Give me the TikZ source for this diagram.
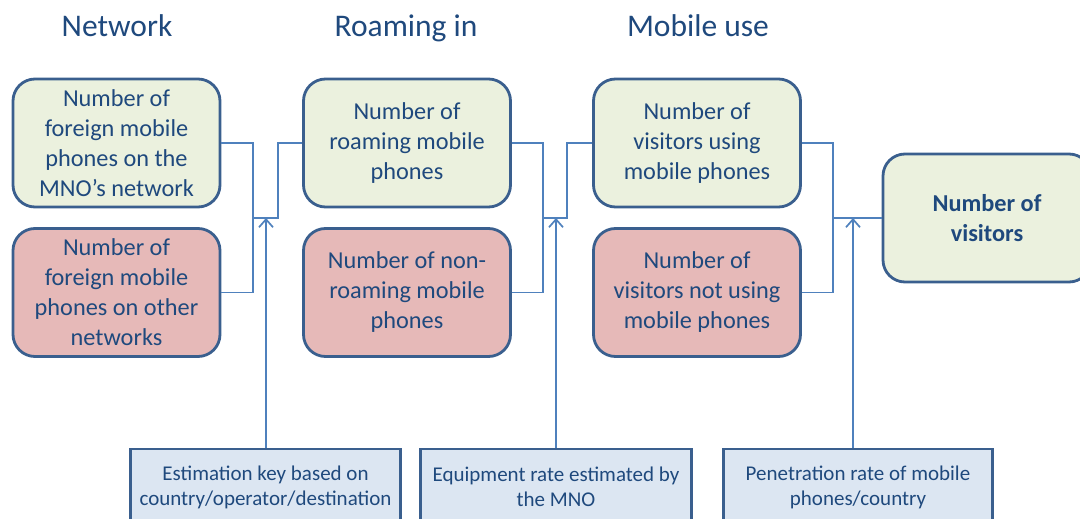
\documentclass[tikz,border=0pt]{standalone}
\usepackage{fontspec}
\setmainfont{Carlito}
\usetikzlibrary{arrows.meta}
\definecolor{txt}{HTML}{1F497D}
\definecolor{bord}{HTML}{3A5F8E}
\definecolor{conn}{HTML}{4F81BD}
\definecolor{gfill}{HTML}{EBF1DE}
\definecolor{rfill}{HTML}{E6B9B8}
\definecolor{bfill}{HTML}{DCE6F2}
\tikzset{
  rbox/.style={draw=bord, line width=2.8pt, rounded corners=22pt, minimum width=207pt, minimum height=128pt,
    align=center, text=txt, inner sep=0pt, font=\fontsize{24.3}{30}\selectfont},
  gbox/.style={rbox, fill=gfill},
  redbox/.style={rbox, fill=rfill},
  keybox/.style={draw=bord, line width=2.8pt, fill=bfill, minimum height=76pt, align=center, text=txt,
    inner sep=0pt, font=\fontsize{21}{25}\selectfont},
  title/.style={text=txt, anchor=base, font=\fontsize{31.5}{36}\selectfont},
  connline/.style={draw=conn, line width=1.7pt},
  arr/.style={connline, -{Straight Barb[length=8pt,width=14pt]}},
}
\begin{document}
\begin{tikzpicture}[x=1pt,y=-1pt]
\useasboundingbox (0,0) rectangle (1080,519);
\node[title] (t1) at (117,37) {Network};
\node[title] (t2) at (406,37) {Roaming in};
\node[title] (t3) at (698,37) {Mobile use};

\node[gbox] (A) at (116.5,143) {Number of\\foreign mobile\\phones on the\\MNO’s network};
\node[redbox] (B) at (116.5,292.5) {Number of\\foreign mobile\\phones on other\\networks};
\node[gbox] (C) at (407,143) {Number of\\roaming mobile\\phones};
\node[redbox] (D) at (407,292.5) {Number of non-\\roaming mobile\\phones};
\node[gbox] (E) at (697,143) {Number of\\visitors using\\mobile phones};
\node[redbox] (F) at (697,292.5) {Number of\\visitors not using\\mobile phones};
\node[gbox, minimum width=208pt, font=\fontsize{24.3}{30}\selectfont\bfseries] (G) at (987,218) {Number of\\visitors};

\node[keybox, minimum width=270pt] (K1) at (265.5,487) {Estimation key based on\\country/operator/destination};
\node[keybox, minimum width=271pt] (K2) at (556,487) {Equipment rate estimated by\\the MNO};
\node[keybox, minimum width=269pt] (K3) at (858,487) {Penetration rate of mobile\\phones/country};

\coordinate (v1) at (253,218);
\coordinate (w1) at (278,218);
\coordinate (j1) at (266,218);
\coordinate (v2) at (543,218);
\coordinate (w2) at (567,218);
\coordinate (j2) at (556,218);
\coordinate (v3) at (833,218);
\coordinate (j3) at (853,218);

\draw[connline] (A.east) -| (v1) |- (B.east);
\draw[connline] (v1) -- (w1) |- (C.west);
\draw[connline] (C.east) -| (v2) |- (D.east);
\draw[connline] (v2) -- (w2) |- (E.west);
\draw[connline] (E.east) -| (v3) |- (F.east);
\draw[connline] (v3) -- (G.west);

\draw[arr] (K1.north -| j1) -- (j1);
\draw[arr] (K2.north -| j2) -- (j2);
\draw[arr] (K3.north -| j3) -- (j3);
\end{tikzpicture}
\end{document}
